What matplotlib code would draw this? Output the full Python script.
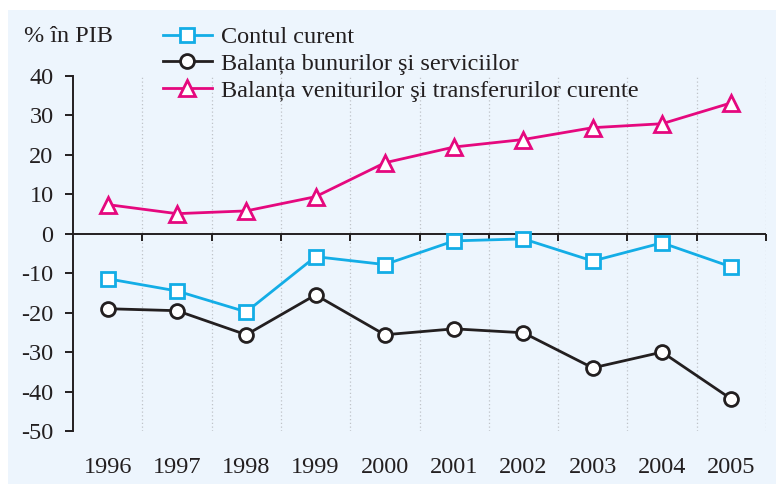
import matplotlib.pyplot as plt
import numpy as np

plt.rcParams['font.family'] = ['Liberation Serif', 'DejaVu Serif']
plt.rcParams['axes.unicode_minus'] = False

ani = ['1996', '1997', '1998', '1999', '2000', '2001', '2002', '2003', '2004', '2005']
cont_curent = [-11.4, -14.5, -19.8, -5.8, -7.8, -1.8, -1.3, -6.9, -2.3, -8.4]
bunuri_servicii = [-19.0, -19.5, -25.6, -15.5, -25.6, -24.1, -25.1, -34.0, -30.0, -41.9]
venituri_transferuri = [7.4, 5.1, 5.8, 9.4, 18.0, 22.0, 23.9, 26.9, 27.9, 33.2]

fundal = '#EDF5FD'
albastru = '#13ADE6'
negru = '#231F20'
roz = '#E5087E'

fig = plt.figure(figsize=(7.76, 4.84), dpi=100, facecolor='white')
# fundalul albastru deschis al intregului grafic
fig.patches.append(plt.Rectangle((8 / 776, 0), 1, 1 - 10 / 484,
                                 transform=fig.transFigure, facecolor=fundal,
                                 edgecolor='none', zorder=-10))

ax = fig.add_axes([73 / 776, 1 - 431 / 484, (766 - 73) / 776, (431 - 76) / 484])
ax.set_facecolor('none')

x = np.arange(len(ani))

# linii verticale punctate intre ani
for b in x + 0.5:
    ax.axvline(b, color='#BFC3C8', linestyle=(0, (1, 2)), linewidth=0.9, zorder=1)

# axa orizontala la zero cu marcaje
ax.axhline(0, color=negru, linewidth=1.4, zorder=2)
ax.plot(x + 0.5, np.zeros(len(x)), linestyle='none', marker=3, markersize=5,
        markeredgewidth=1.4, color=negru, zorder=2, clip_on=False)

stil = dict(linewidth=2.0, markeredgewidth=2.0,
            markerfacecolor='white', clip_on=False, zorder=3)
ax.plot(x, cont_curent, color=albastru, marker='s', markersize=10,
        label='Contul curent', **stil)
ax.plot(x, bunuri_servicii, color=negru, marker='o', markersize=10,
        label='Balanța bunurilor şi serviciilor', **stil)
ax.plot(x, venituri_transferuri, color=roz, marker='^', markersize=11,
        label='Balanța veniturilor şi transferurilor curente', **stil)

ax.set_xlim(-0.5, 9.5)
ax.set_ylim(-50, 40)
ax.set_yticks(np.arange(-50, 41, 10))
ax.set_xticks(x)
ax.set_xticklabels(ani)

for s in ['top', 'right', 'bottom']:
    ax.spines[s].set_visible(False)
ax.spines['left'].set_color(negru)
ax.spines['left'].set_linewidth(1.4)

ax.tick_params(axis='y', direction='out', length=6, width=1.4, color=negru,
               labelsize=17.5, pad=8, labelcolor=negru)
ax.tick_params(axis='x', length=0, labelsize=17.5, pad=19, labelcolor=negru)

fig.text(24 / 776, 1 - 37 / 484, '% în PIB', fontsize=17.5, color=negru,
         va='center', ha='left')

ax.legend(loc='upper left', bbox_to_anchor=(163 / 776, 1 - 26 / 484),
          bbox_transform=fig.transFigure, frameon=False, fontsize=17.5,
          handlelength=2.0, handletextpad=0.4, labelspacing=0.2,
          borderaxespad=0, borderpad=0, labelcolor=negru)

fig.savefig('out.png', dpi=100, facecolor='white')
